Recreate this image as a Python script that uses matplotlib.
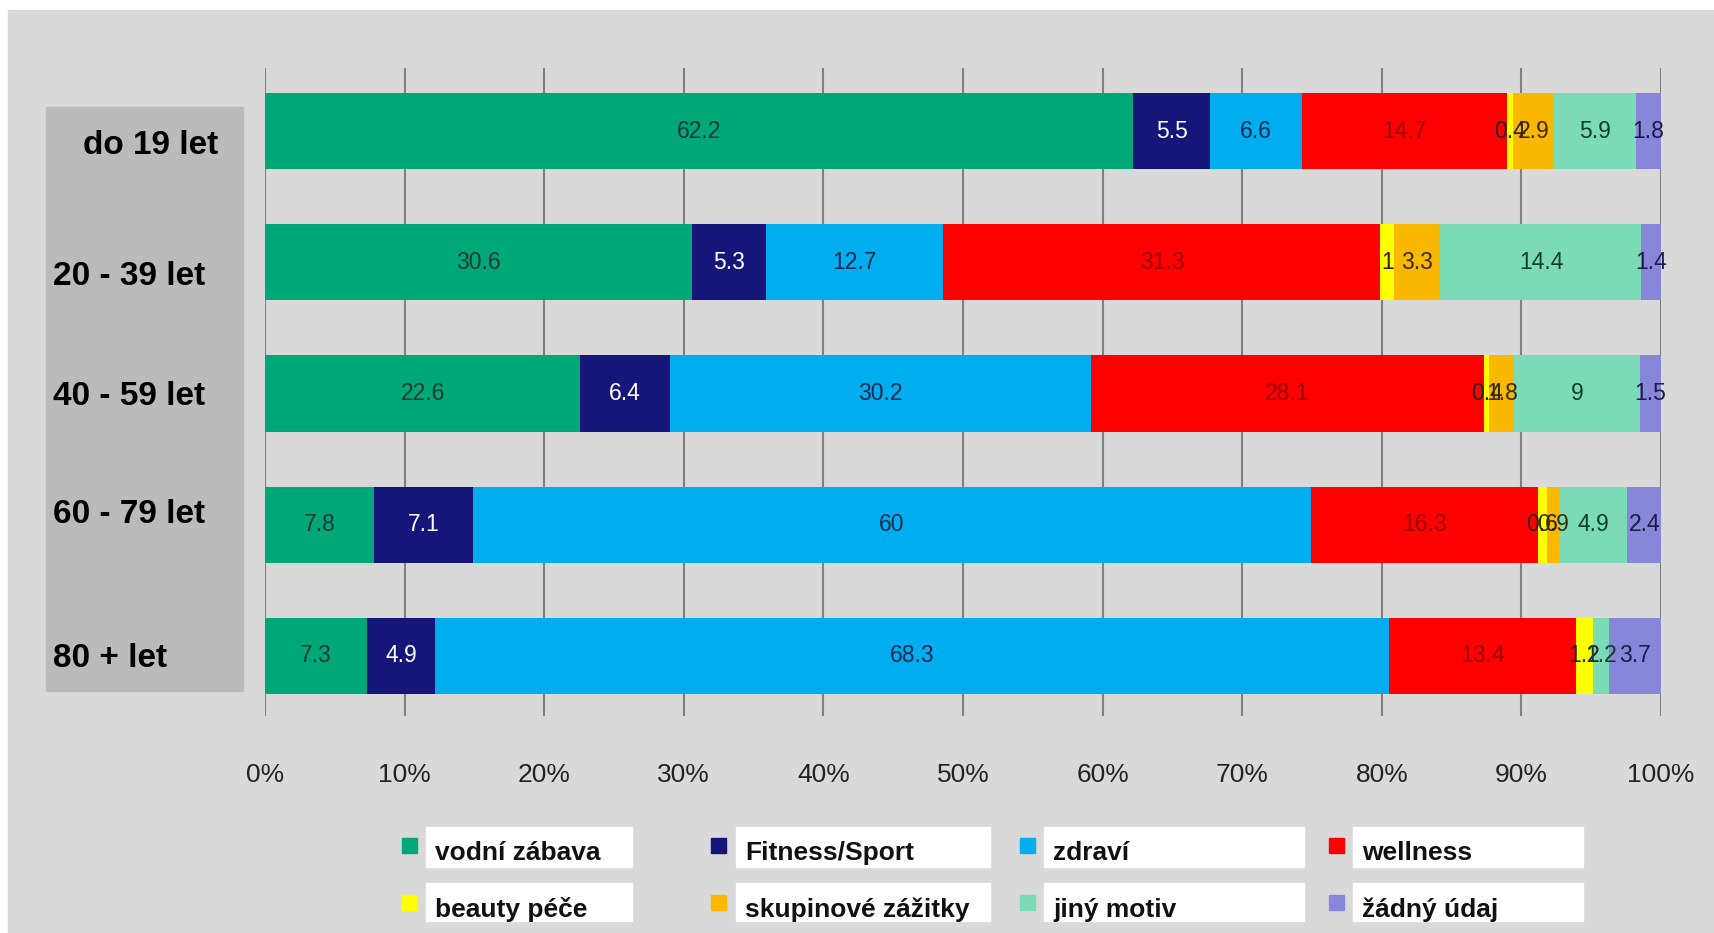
import matplotlib
matplotlib.use("Agg")
import matplotlib.pyplot as plt
from matplotlib.patches import Rectangle

# age groups (top to bottom) and motive categories
age_groups = ["do 19 let", "20 - 39 let", "40 - 59 let", "60 - 79 let", "80 + let"]
categories = ["vodní zábava", "Fitness/Sport", "zdraví", "wellness",
              "beauty péče", "skupinové zážitky", "jiný motiv", "žádný údaj"]

# shares in % per age group
vodni_zabava = [62.2, 30.6, 22.6, 7.8, 7.3]
fitness_sport = [5.5, 5.3, 6.4, 7.1, 4.9]
zdravi = [6.6, 12.7, 30.2, 60, 68.3]
wellness = [14.7, 31.3, 28.1, 16.3, 13.4]
beauty_pece = [0.4, 1, 0.4, 0.6, 1.2]
skupinove_zazitky = [2.9, 3.3, 1.8, 0.9, 0]
jiny_motiv = [5.9, 14.4, 9, 4.9, 1.2]
zadny_udaj = [1.8, 1.4, 1.5, 2.4, 3.7]

series = [vodni_zabava, fitness_sport, zdravi, wellness,
          beauty_pece, skupinove_zazitky, jiny_motiv, zadny_udaj]
colors = ["#00a878", "#16167a", "#00adef", "#ff0000",
          "#ffff00", "#fbb800", "#7adbb6", "#8886d8"]
label_colors = ["#1d3a33", "#ffffff", "#1a2a50", "#9a0000",
                "#222222", "#3a2a00", "#0e3d2e", "#1c1c4c"]

W, H = 1714, 933
bg = "#d9d9d9"
fam = ["Liberation Sans", "DejaVu Sans"]


def fx(x):
    return x / W


def fy(y):
    return 1 - y / H


fig = plt.figure(figsize=(W / 100, H / 100), dpi=100)
fig.patch.set_facecolor("white")
# gray background panel (white strip on top and left like the scan)
fig.add_artist(Rectangle((fx(8), 0), fx(W - 8), 1 - 10 / H,
                         transform=fig.transFigure, color=bg, zorder=0))
# darker box behind the category labels
fig.add_artist(Rectangle((fx(46), fy(691)), fx(197), (691 - 107) / H,
                         transform=fig.transFigure, color="#bbbbbb", zorder=1))

ax = fig.add_axes([fx(265), fy(716), fx(1661 - 265), (716 - 68) / H])
ax.patch.set_alpha(0)

ypos = list(range(len(age_groups)))
left = [0] * len(age_groups)
for vals, col, lcol in zip(series, colors, label_colors):
    bars = ax.barh(ypos, vals, left=left, height=0.58, color=col,
                   edgecolor="none", zorder=3)
    ax.bar_label(bars, labels=[f"{v:g}" if v > 0 else "" for v in vals],
                 label_type="center", color=lcol, fontsize=16.5,
                 family=fam, zorder=4)
    left = [a + b for a, b in zip(left, vals)]

ax.set_xlim(0, 100)
ax.set_ylim(4 + 60 / 131.25, -63 / 131.25)
ax.set_xticks(range(0, 101, 10))
ax.set_xticklabels([f"{t}%" for t in range(0, 101, 10)],
                   fontsize=19, family=fam, color="#222222")
ax.set_yticks([])
ax.tick_params(axis="x", length=0, pad=34)
ax.grid(axis="x", color="#808080", linewidth=1.5)
ax.set_axisbelow(True)
for s in ax.spines.values():
    s.set_visible(False)

# category labels on the left
label_dy = [0.11, 0.11, 0.02, -0.08, 0.02]
for i, (name, dy) in enumerate(zip(age_groups, label_dy)):
    y_fig = fy(68 + 63 + i * 131.25 + dy * 131.25)
    if i == 0:
        fig.text(fx(151), y_fig, name, ha="center", va="center",
                 fontsize=24, fontweight="bold", family=fam, zorder=5)
    else:
        fig.text(fx(53), y_fig, name, ha="left", va="center",
                 fontsize=24, fontweight="bold", family=fam, zorder=5)

# legend: colored squares and white boxes with text
sq_x = [409, 718, 1027, 1336]
box_x = [426, 736, 1044, 1353]
box_w = [206, 254, 260, 230]
row_box = [(827, 867), (883, 921)]
row_sq = [845, 902]
row_txt = [853, 910]
for k, (name, col) in enumerate(zip(categories, colors)):
    r, c = divmod(k, 4)
    s = 15
    fig.add_artist(Rectangle((fx(sq_x[c] - s / 2), fy(row_sq[r] + s / 2)),
                             fx(s), s / H, transform=fig.transFigure,
                             color=col, zorder=2))
    y0, y1 = row_box[r]
    fig.add_artist(Rectangle((fx(box_x[c]), fy(y1)), fx(box_w[c]), (y1 - y0) / H,
                             transform=fig.transFigure, color="white", zorder=2))
    fig.text(fx(box_x[c] + 9), fy(row_txt[r]), name, ha="left", va="center",
             fontsize=19, fontweight="bold", family=fam, color="#111111",
             zorder=3)

fig.savefig("out.png", dpi=100, facecolor=fig.get_facecolor())
